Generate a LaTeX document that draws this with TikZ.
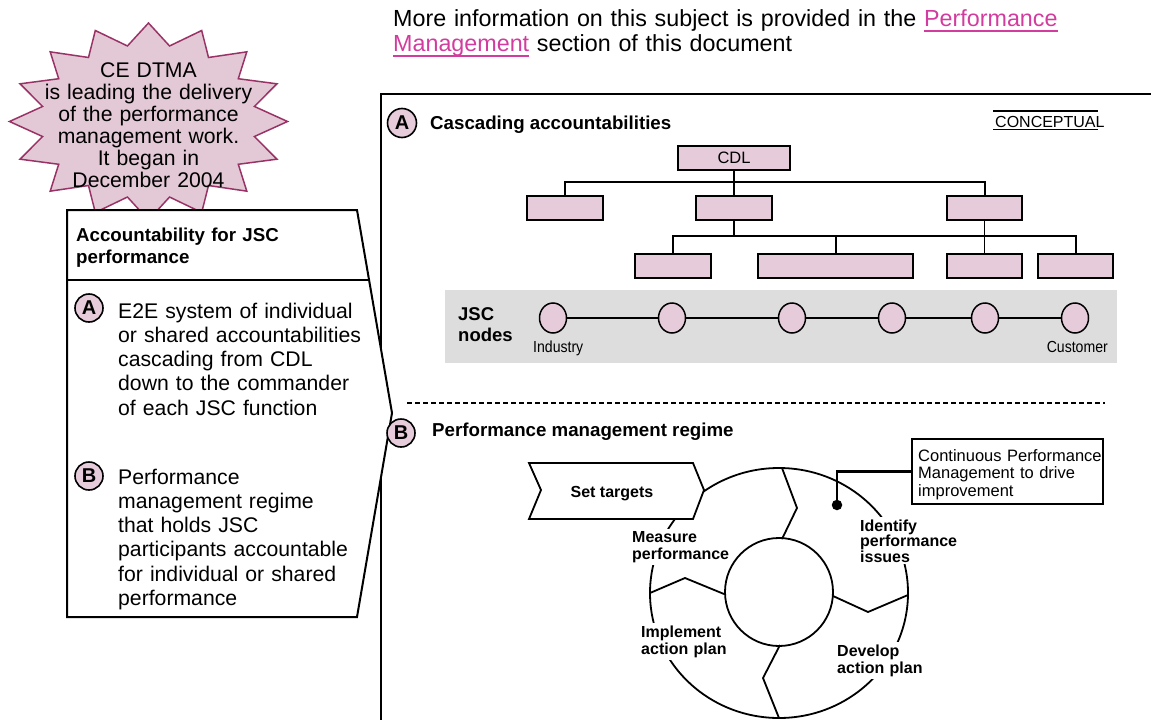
\documentclass[tikz,border=0pt]{standalone}
\usepackage{fontspec}
\setmainfont{Liberation Sans}
\usetikzlibrary{shapes.geometric,calc}
\definecolor{pinkfill}{HTML}{E6CCDA}
\definecolor{burstfill}{HTML}{E3C8D6}
\definecolor{burstdraw}{HTML}{993366}
\definecolor{linkpink}{HTML}{D23C9E}
\definecolor{bandgrey}{HTML}{DDDDDD}
\newcommand\fsz[2]{\fontsize{#1}{#2}\selectfont}
\newsavebox\lnkbox
\newcommand\lnk[1]{\leavevmode\sbox\lnkbox{#1}\rlap{\rule[-5.5pt]{\wd\lnkbox}{1.8pt}}\usebox\lnkbox}
\begin{document}
\begin{tikzpicture}[x=1pt,y=-1pt,
  orgbox/.style={draw, line width=2pt, fill=pinkfill, inner sep=0pt, minimum height=24pt, font=\fsz{16.5}{18}},
  letter/.style={circle, draw, line width=1.6pt, fill=pinkfill, inner sep=0pt, minimum size=28pt, font=\bfseries\fsz{20}{20}},
  jsc/.style={ellipse, draw, line width=1.5pt, fill=pinkfill, inner sep=0pt, minimum width=27pt, minimum height=30pt},
  body/.style={anchor=base west, inner sep=0pt, text width=265pt, align=left, font=\fsz{21.2}{24.25}},
  hdr/.style={anchor=base west, inner sep=0pt, font=\bfseries\fsz{18.7}{21.5}},
  ringlbl/.style={anchor=base west, fill=white, inner xsep=1pt, inner ysep=2pt, align=left, font=\bfseries\fsz{16}{17.5}},
  conn/.style={line width=2pt}]
\useasboundingbox (0,0) rectangle (1151,720);

% top note
\node[anchor=base west, inner sep=0pt, text width=720pt, align=left, font=\fsz{23.3}{25.5}] (topnote) at (393,26)
  {More information on this subject is provided in the {\color{linkpink}\lnk{Performance}}\\{\color{linkpink}\lnk{Management}} section of this document};

% starburst
\draw[line width=1.5pt, draw=burstdraw, fill=burstfill]
  plot[samples at={0,...,31}, variable=\k]
  ({148.5+(139-31*mod(\k,2))*cos(90+\k*11.25)}, {121.5+(98.5-21.5*mod(\k,2))*sin(90+\k*11.25)}) -- cycle;
\node[anchor=base, inner sep=0pt, text width=260pt, align=center, font=\fsz{21.2}{22}] (burst) at (148.5,77)
  {CE DTMA\\is leading the delivery\\of the performance\\management work.\\It began in\\December 2004};

% main frame
\draw[line width=2.5pt] (381,720) -- (381,94) -- (1151,94);

% left callout
\draw[line width=2pt, fill=white] (67,210) -- (357,210) -- (392,413) -- (357,617) -- (67,617) -- cycle;
\draw[line width=2pt] (67,280) -- (369.1,280);
\node[hdr, text width=280pt, align=left] (lhdr) at (76,241.5) {Accountability for JSC\\performance};
\node[letter] (la) at (89,308) {A};
\node[body] (lat) at (118,318) {E2E system of individual\\or shared accountabilities\\cascading from CDL\\down to the commander\\of each JSC function};
\node[letter] (lb) at (89,476) {B};
\node[body] (lbt) at (118,484) {Performance\\management regime\\that holds JSC\\participants accountable\\for individual or shared\\performance};

% section A
\node[letter, minimum size=29pt] (fa) at (402,123) {A};
\node[hdr] (ahdr) at (430,129) {Cascading accountabilities};
\node[anchor=base west, inner sep=0pt, font=\fsz{16}{18}] (concept) at (995,127) {CONCEPTUAL};
\draw[line width=1.5pt] (993,111) -- (1098,111);
\draw[line width=1.5pt] (993,129.5) -- (1098,129.5);

\node[orgbox, minimum width=112pt] (cdl) at (734,157.5) {CDL};
\node[orgbox, minimum width=76pt] (b1) at (565,208) {};
\node[orgbox, minimum width=76pt] (b2) at (734,208) {};
\node[orgbox, minimum width=75pt] (b3) at (984.5,208) {};
\node[orgbox, minimum width=76pt] (ca) at (673,265.5) {};
\node[orgbox, minimum width=155pt] (cb) at (835.5,265.5) {};
\node[orgbox, minimum width=75pt] (cc) at (984.5,265.5) {};
\node[orgbox, minimum width=75pt] (cd) at (1075.5,265.5) {};
\coordinate (j1) at (734,182);
\coordinate (j2) at (734,236);
\draw[conn] (cdl.south) -- (j1);
\draw[conn] (b1.north) |- (b3.north |- j1) -- (b3.north);
\draw[conn] (j1) -- (b2.north);
\draw[conn] (b2.south) -- (j2);
\draw[conn] (ca.north) |- (cd.north |- j2) -- (cd.north);
\draw[conn] (cb.north) -- (cb.north |- j2);
\draw[line width=1.5pt] (b3.south) -- (cc.north);

% JSC band
\fill[bandgrey] (445,290) rectangle (1117,363);
\node[anchor=base west, inner sep=0pt, text width=70pt, align=left, font=\bfseries\fsz{18.5}{21}] (jsclbl) at (458,320) {JSC\\nodes};
\node[jsc] (n1) at (553,318) {};
\node[jsc] (n2) at (672,318) {};
\node[jsc] (n3) at (792,318) {};
\node[jsc] (n4) at (892,318) {};
\node[jsc] (n5) at (985,318) {};
\node[jsc] (n6) at (1075,318) {};
\draw[line width=1.3pt] (n1) -- (n2) -- (n3) -- (n4) -- (n5) -- (n6);
\node[anchor=base west, inner sep=0pt, font=\fsz{16}{18}] (ind) at (533,352) {\scalebox{0.88}[1]{Industry}};
\node[anchor=base east, inner sep=0pt, font=\fsz{16}{18}] (cust) at (1108,352) {\scalebox{0.88}[1]{Customer}};

% divider
\draw[line width=2pt, dash pattern=on 5pt off 3pt] (407,403) -- (1105,403);

% section B
\node[letter] (fb) at (401,433) {B};
\node[hdr] (bhdr) at (432,436) {Performance management regime};

% ring
\coordinate (rc) at (779,593);
\draw[line width=1.8pt] (rc) ellipse [x radius=129, y radius=125];
\node[ringlbl, text width=102pt] (lm) at (631,542) {Measure\\performance};
\node[ringlbl, text width=102pt, font=\bfseries\fsz{16}{15.5}] (li) at (859,531) {Identify\\performance\\issues};
\node[ringlbl, text width=88pt] (lim) at (640,637) {Implement\\action plan};
\node[ringlbl, text width=88pt] (ld) at (836,656) {Develop\\action plan};
\draw[line width=1.8pt] (779,592) circle [radius=54];
\draw[line width=1.8pt] (782,468) -- (797,508) -- (782,539);
\draw[line width=1.8pt] (833,596) -- (868,612) -- (908,595);
\draw[line width=1.8pt] (780,645) -- (763,678) -- (779,718);
\draw[line width=1.8pt] (650,593) -- (685,578) -- (724,594);

% set targets
\draw[line width=1.8pt, fill=white] (529,463) -- (693,463) -- (704,490) -- (693,519) -- (529,519) -- (541,490) -- cycle;
\node[anchor=base, inner sep=0pt, font=\bfseries\fsz{16}{18}] (st) at (612,497) {Set targets};

% continuous PM callout
\node[draw, line width=2pt, minimum width=191pt, minimum height=65pt, inner sep=0pt, anchor=north west] (cpm) at (911,438) {};
\node[anchor=base west, inner sep=0pt, text width=190pt, align=left, font=\fsz{16.5}{17.8}] (cpmt) at (918,461) {Continuous Performance\\Management to drive\\improvement};
\node[circle, fill=black, inner sep=0pt, minimum size=10.5pt] (dot) at (837,505) {};
\draw[line width=2.5pt] (cpm.west) -| (dot);
\end{tikzpicture}
\end{document}
